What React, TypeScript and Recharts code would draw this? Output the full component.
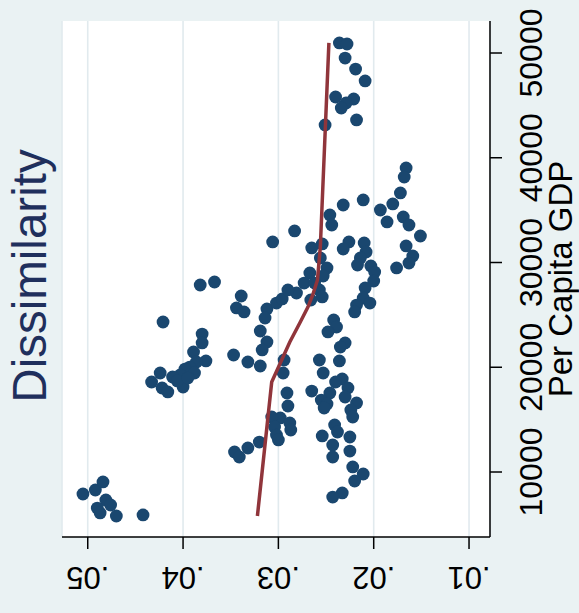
import React from "react";
import { CartesianGrid, Label, Scatter, ScatterChart, XAxis, YAxis } from "recharts";

// dissimilarity index per country-year
const dissimilarity = [
  0.0236, 0.0228, 0.023, 0.0219, 0.0209, 0.024, 0.0221, 0.0229, 0.0234, 0.0218, 0.0251,
  0.0166, 0.0168, 0.0172, 0.018, 0.0193, 0.0186, 0.0169, 0.0163, 0.0151, 0.0166, 0.0159,
  0.0163, 0.0176, 0.0211, 0.0232, 0.0246, 0.0244, 0.0283, 0.0306, 0.0226, 0.0232, 0.021,
  0.0208, 0.0214, 0.0217, 0.0203, 0.0199, 0.02, 0.0209, 0.0211, 0.0218, 0.0204, 0.0265,
  0.0254, 0.0256, 0.0249, 0.0267, 0.0253, 0.0273, 0.0262, 0.0257, 0.0254, 0.0266, 0.0281,
  0.022, 0.0242, 0.0239, 0.0248, 0.023, 0.0235, 0.0257, 0.0236, 0.0253, 0.0233, 0.024,
  0.0227, 0.0265, 0.0246, 0.023, 0.0255, 0.0249, 0.0218, 0.0224, 0.0252, 0.0222, 0.0241,
  0.0238, 0.0225, 0.0254, 0.0243, 0.0225, 0.0243, 0.0222, 0.0211, 0.022, 0.0233, 0.0243,
  0.0382, 0.0367, 0.0339, 0.0344, 0.0336, 0.0312, 0.0314, 0.0302, 0.0296, 0.029, 0.0421,
  0.038, 0.038, 0.0389, 0.0376, 0.0386, 0.0393, 0.0398, 0.0388, 0.0403, 0.0411, 0.0424,
  0.0433, 0.0422, 0.0416, 0.04, 0.0406, 0.0395, 0.0319, 0.0312, 0.0317, 0.0347, 0.0332,
  0.0319, 0.0294, 0.0295, 0.0291, 0.029, 0.0298, 0.0307, 0.0304, 0.0288, 0.0287, 0.0302,
  0.03, 0.032, 0.0332, 0.0346, 0.0341, 0.0505, 0.0492, 0.0484, 0.0481, 0.0476, 0.049,
  0.0487, 0.047, 0.0442,
];

// per capita GDP, same order
const gdp = [
  50960, 50860, 49520, 48470, 47330, 45800, 45610, 45230, 44750, 43610, 43130,
  39020, 38160, 36640, 35590, 35010, 33870, 34350, 33580, 32530, 31580, 30620,
  29950, 29480, 35970, 35490, 34540, 33580, 33010, 31960, 31960, 31290, 31860,
  31000, 30430, 29760, 29670, 29090, 28230, 27570, 26610, 25940, 26130, 31390,
  31770, 30430, 29480, 29000, 28710, 28040, 28040, 27380, 26710, 26420, 27090,
  25280, 24510, 23840, 23370, 22320, 21930, 20690, 20600, 19450, 18880, 18590,
  18020, 17730, 17540, 17160, 16870, 16490, 16590, 15920, 16110, 15250, 14490,
  13820, 13340, 13440, 12580, 12000, 11430, 10480, 9810, 9140, 8000, 7610,
  27850, 28140, 26800, 25660, 25280, 25560, 24700, 26130, 26520, 27380, 24320,
  23170, 22320, 21460, 20600, 20500, 20020, 19830, 19450, 19260, 19070, 19450,
  18590, 18020, 17640, 18110, 18690, 18970, 23460, 22410, 21650, 21170, 20500,
  20120, 20690, 19450, 17540, 16300, 15160, 15250, 14300, 14680, 14010, 13530,
  13060, 12860, 12290, 11910, 11430, 7900, 8280, 9050, 7330, 6850, 6560,
  6090, 5800, 5900,
];

// smoothed fit
const fitDissimilarity = [0.0247, 0.0256, 0.0259, 0.0264, 0.0269, 0.0277, 0.0288, 0.0307, 0.0322];
const fitGdp = [50960, 31480, 28330, 26900, 25750, 24320, 22410, 18590, 5800];

const dissTicks = [0.01, 0.02, 0.03, 0.04, 0.05];
const gdpTicks = [10000, 20000, 30000, 40000, 50000];

const points = dissimilarity.map((d, i) => ({ d, g: gdp[i] }));
const fit = fitDissimilarity.map((d, i) => ({ d, g: fitGdp[i] }));

const FONT = "'Liberation Sans', Arial, sans-serif";
const NAVY = "#1a476f";
const MAROON = "#90353b";

function FlipTick({ x, y, payload }: any) {
  const s = String(payload.value).replace(/^0/, "");
  return (
    <text x={x} y={y} transform={`rotate(180, ${x}, ${y})`} textAnchor="middle" fontSize={31} fontFamily={FONT} fill="#000">
      {s}
    </text>
  );
}

function SideTick({ x, y, payload }: any) {
  return (
    <text x={x} y={y} transform={`rotate(-90, ${x}, ${y})`} textAnchor="middle" fontSize={32} fontFamily={FONT} fill="#000">
      {payload.value}
    </text>
  );
}

const Dot = (p: any) => <circle cx={p.cx} cy={p.cy} r={6.4} fill={NAVY} />;

export default function App() {
  return (
    <div style={{ position: "absolute", left: 0, top: 0, width: 579, height: 613, background: "#eaf2f3" }}>
      <ScatterChart width={579} height={613} margin={{ top: 21, right: 0, bottom: 0, left: 62 }}>
        <CartesianGrid horizontal={false} fill="#ffffff" stroke="#e1eaee" strokeWidth={1.6} />
        <XAxis
          type="number"
          dataKey="d"
          domain={[0.0078, 0.0527]}
          reversed
          allowDataOverflow
          ticks={dissTicks}
          height={76}
          tickSize={12}
          tickMargin={18}
          axisLine={{ stroke: "#000", strokeWidth: 1.5 }}
          tickLine={{ stroke: "#000", strokeWidth: 1.5 }}
          tick={<FlipTick />}
        >
          <Label
            content={() => (
              <text x={46} y={276} transform="rotate(-90, 46, 276)" textAnchor="middle" fontSize={47.5} fontFamily={FONT} fill="#1f2f5c">
                Dissimilarity
              </text>
            )}
          />
        </XAxis>
        <YAxis
          type="number"
          dataKey="g"
          orientation="right"
          domain={[3795, 53055]}
          allowDataOverflow
          ticks={gdpTicks}
          width={89}
          tickSize={12}
          tickMargin={40}
          axisLine={{ stroke: "#000", strokeWidth: 1.5 }}
          tickLine={{ stroke: "#000", strokeWidth: 1.5 }}
          tick={<SideTick />}
        >
          <Label
            content={(props: any) => {
              const vb = props.viewBox;
              const x = vb.x + 82;
              const y = vb.y + vb.height / 2;
              return (
                <text x={x} y={y} transform={`rotate(-90, ${x}, ${y})`} textAnchor="middle" fontSize={33} fontFamily={FONT} fill="#000">
                  Per Capita GDP
                </text>
              );
            }}
          />
        </YAxis>
        <Scatter data={points} shape={Dot} isAnimationActive={false} />
        <Scatter
          data={fit}
          line={{ stroke: MAROON, strokeWidth: 3.5 }}
          lineType="joint"
          shape={() => <g />}
          isAnimationActive={false}
        />
      </ScatterChart>
    </div>
  );
}
